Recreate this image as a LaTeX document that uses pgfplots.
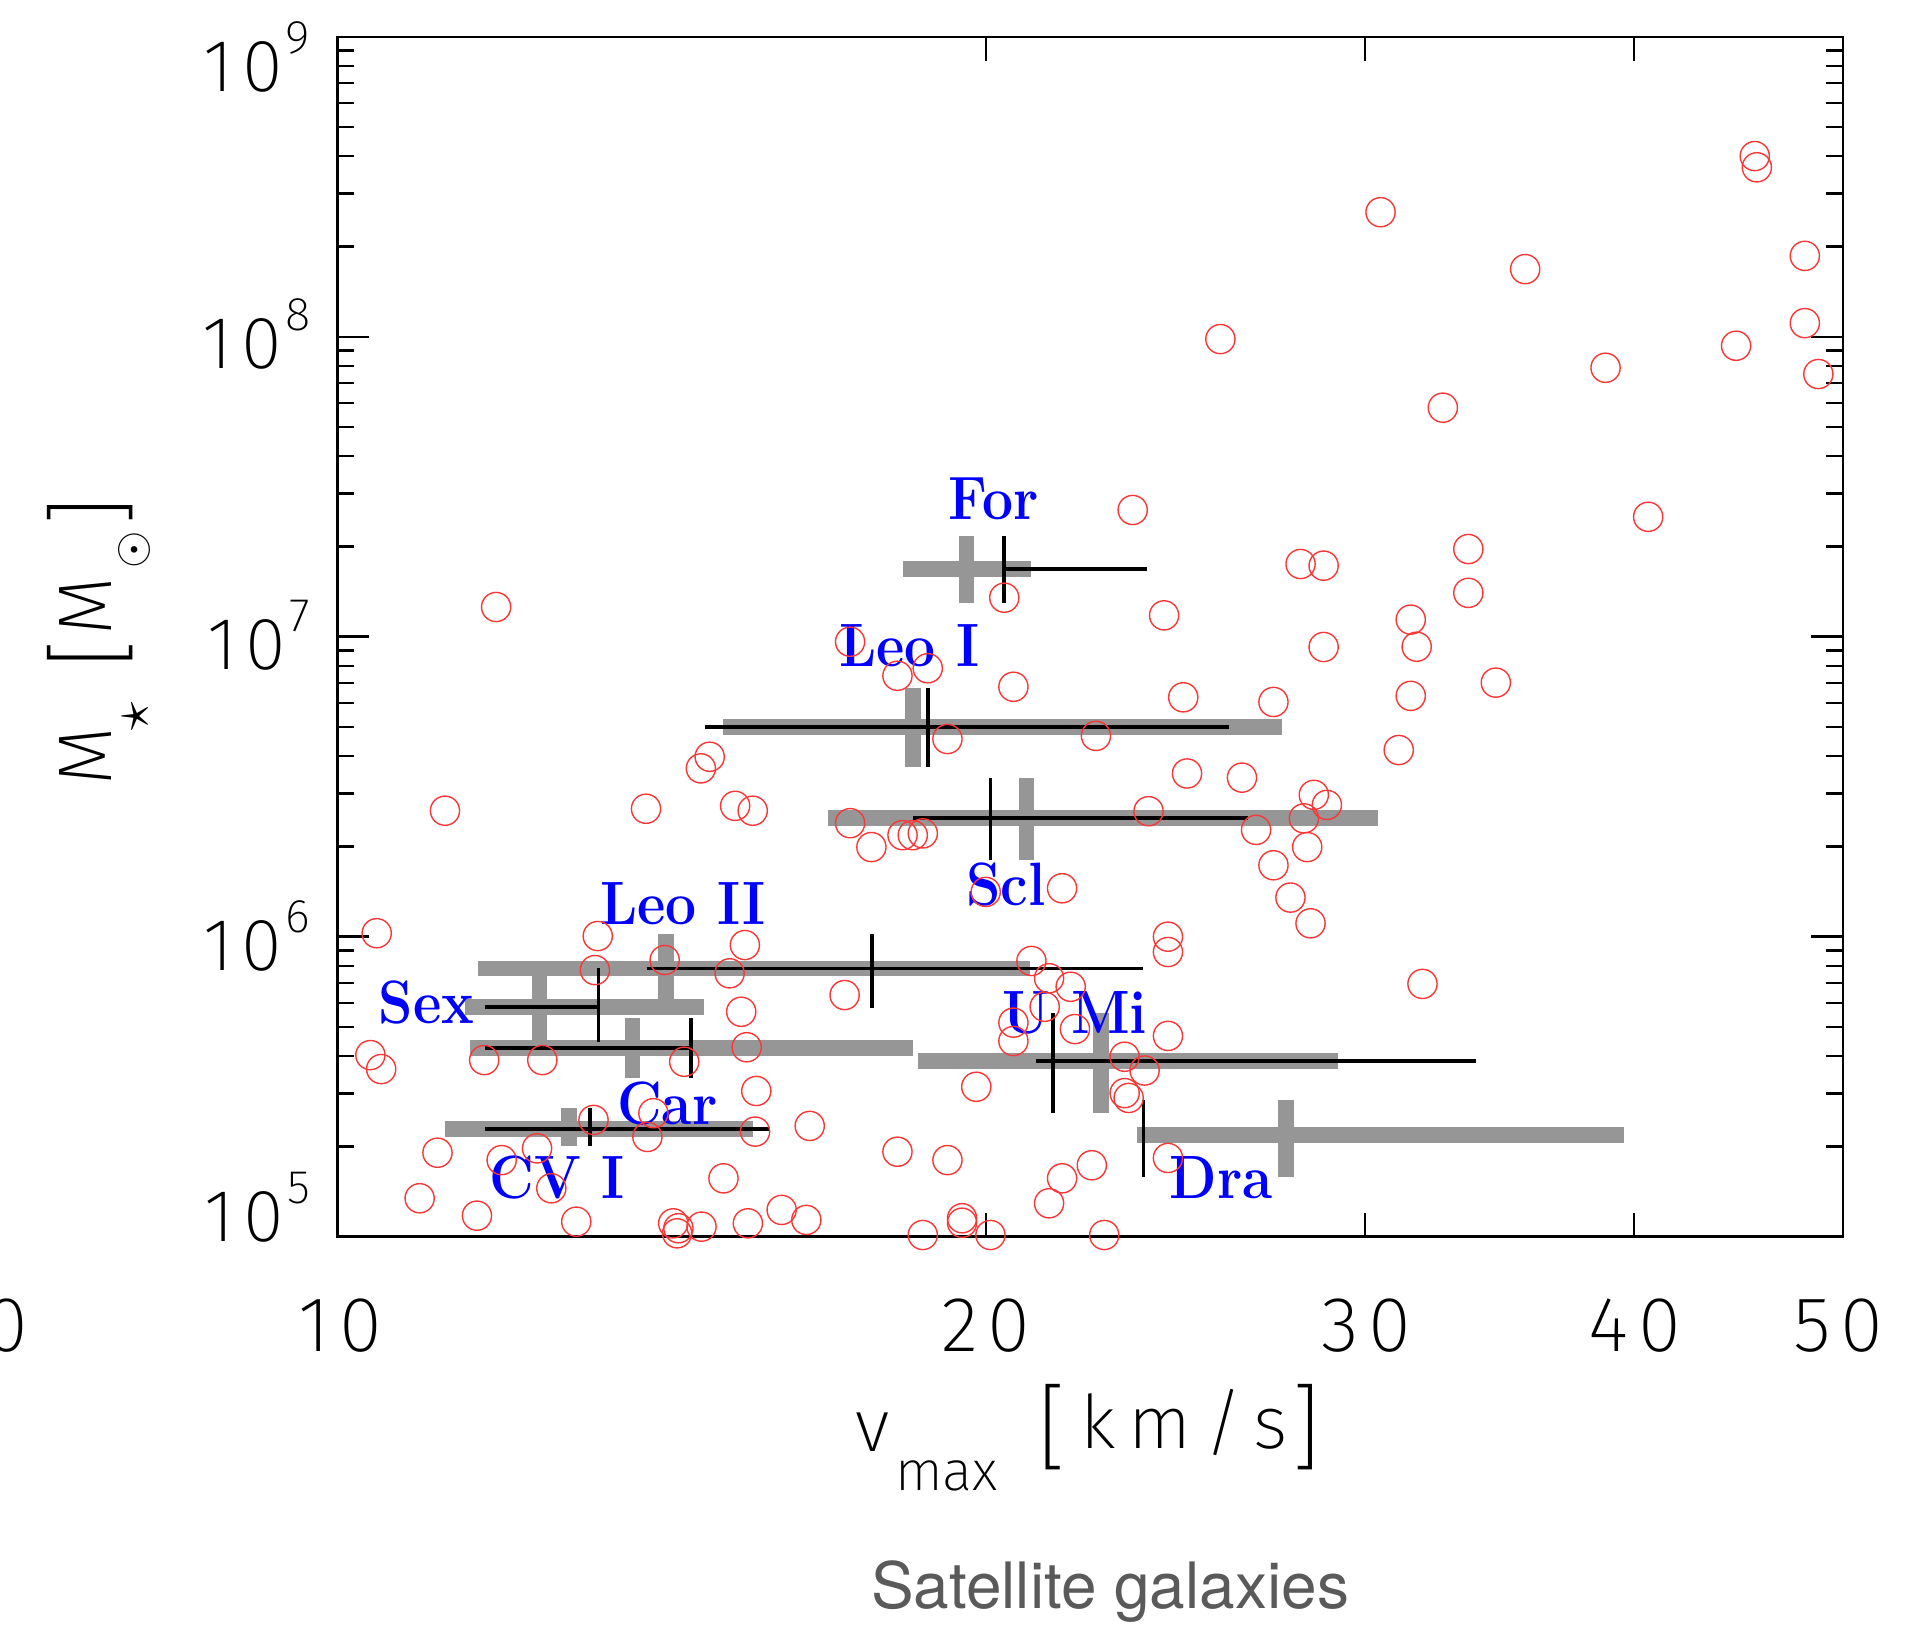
\documentclass[border=0pt]{standalone}
\usepackage{fontspec}
\usepackage{graphicx}
\usepackage{pgfplots}
\pgfplotsset{compat=1.18}
% thin sans for the axis texts, falls back to Heros
\IfFontExistsTF{Fira Sans ExtraLight}{\def\thinname{Fira Sans ExtraLight}}%
  {\IfFontExistsTF{Fira Sans Light}{\def\thinname{Fira Sans Light}}{\def\thinname{TeX Gyre Heros}}}
\expandafter\newfontfamily\expandafter\hv\expandafter{\thinname}
\expandafter\newfontfamily\expandafter\hvt\expandafter{\thinname}[LetterSpace=12]
\expandafter\newfontfamily\expandafter\hvsp\expandafter{\thinname}[LetterSpace=17]
\newfontfamily\heros{TeX Gyre Heros}
\definecolor{circred}{RGB}{250,55,55}
\definecolor{bargray}{RGB}{150,150,150}
\definecolor{capgray}{RGB}{90,90,90}
\definecolor{galblue}{RGB}{0,0,255}
\tikzset{galaxy/.style={anchor=base, inner sep=0pt, text=galblue,
        font=\fontsize{15.3}{16}\selectfont\bfseries}}

\begin{document}
\begin{tikzpicture}
\begin{axis}[
    name=ax, at={(0,0)}, anchor=south west,
    scale only axis, width=376.425pt, height=300pt,
    xmode=log, ymode=log,
    xmin=10, xmax=50, ymin=1e5, ymax=1e9,
    xtick=\empty, minor xtick={},
    extra x ticks={20,30,40}, extra x tick labels={},
    extra x tick style={major tick length=6pt},
    ytick={1e5,1e6,1e7,1e8,1e9}, yticklabels={},
    minor ytick={2e5,3e5,4e5,5e5,6e5,7e5,8e5,9e5,
                 2e6,3e6,4e6,5e6,6e6,7e6,8e6,9e6,
                 2e7,3e7,4e7,5e7,6e7,7e7,8e7,9e7,
                 2e8,3e8,4e8,5e8,6e8,7e8,8e8,9e8},
    major tick length=8pt, minor tick length=4.25pt,
    tick style={black, line width=0.6pt},
    axis line style={black, line width=0.6pt},
    axis on top,
    unbounded coords=jump,
]

% simulated satellites
\addplot[only marks, mark=o, mark size=3.65pt, color=circred,
         mark options={line width=0.35pt}] coordinates {
 (25.7,9.82e7) (30.5,2.60e8) (35.6,1.68e8) (45.5,4.00e8) (45.6,3.67e8)
 (48.0,1.86e8) (48.0,1.11e8) (44.6,9.33e7) (48.7,7.51e7) (38.8,7.88e7)
 (32.6,5.80e7)
 (40.6,2.51e7) (33.5,1.96e7) (33.5,1.40e7) (31.5,1.14e7) (31.7,9.26e6)
 (34.5,7.03e6) (31.5,6.35e6) (31.1,4.19e6)
 (23.4,2.645e7) (20.4,1.349e7) (24.2,1.178e7) (28.0,1.747e7) (28.7,1.725e7)
 (28.7,9.24e6) (17.3,9.62e6) (18.2,7.41e6) (18.8,7.85e6) (20.6,6.81e6)
 (24.7,6.28e6) (27.2,6.06e6) (19.2,4.56e6) (22.5,4.67e6) (24.8,3.50e6)
 (26.3,3.39e6) (28.4,2.97e6) (28.8,2.75e6) (28.1,2.48e6) (23.8,2.62e6)
 (26.7,2.27e6) (17.3,2.39e6) (17.7,1.99e6) (18.3,2.18e6) (18.5,2.18e6)
 (18.7,2.21e6) (28.2,1.99e6)
 (27.2,1.73e6) (27.7,1.35e6) (28.3,1.108e6) (21.7,1.45e6) (20.0,1.41e6)
 (24.3,1.0e6) (24.3,8.89e5) (21.0,8.30e5) (21.4,7.27e5) (21.9,6.81e5)
 (17.2,6.39e5) (21.3,5.84e5) (20.6,5.17e5) (20.6,4.49e5) (22.0,4.92e5)
 (24.3,4.67e5) (23.2,3.98e5) (23.7,3.58e5) (23.2,3.01e5) (23.3,2.90e5)
 (19.8,3.16e5) (18.2,1.92e5) (19.2,1.80e5) (24.3,1.83e5) (22.4,1.73e5)
 (21.7,1.565e5) (21.4,1.292e5) (19.5,1.152e5) (19.5,1.113e5) (18.7,1.013e5)
 (20.1,1.013e5) (21.3,9.90e4) (22.7,1.013e5)
 (31.9,6.96e5)
 (11.85,1.256e7) (14.89,3.98e6) (14.75,3.64e6) (11.22,2.63e6) (13.91,2.67e6)
 (15.30,2.73e6) (15.59,2.63e6)
 (10.43,1.027e6) (13.21,1.005e6) (13.17,7.74e5) (14.19,8.36e5) (15.46,9.38e5)
 (15.21,7.55e5) (15.40,5.62e5) (10.36,4.03e5) (10.48,3.62e5) (11.70,3.88e5)
 (12.45,3.88e5) (14.49,3.83e5) (15.49,4.28e5) (15.65,3.06e5) (16.57,2.34e5)
 (15.63,2.24e5) (13.93,2.15e5) (14.02,2.58e5) (13.15,2.45e5) (11.13,1.905e5)
 (11.92,1.80e5) (12.38,1.97e5) (12.57,1.45e5) (10.92,1.343e5) (11.61,1.175e5)
 (12.91,1.122e5) (15.11,1.565e5) (16.08,1.228e5) (16.51,1.137e5) (15.51,1.108e5)
 (14.32,1.108e5) (14.40,1.067e5) (14.38,1.026e5) (14.76,1.080e5) (13.46,9.75e4)
 (16.81,9.88e4)
 (9.86,3.62e5) (9.86,2.20e5)
};

% gray crosses
\addplot[no markers, draw=bargray, line width=3.9pt] coordinates {
 (18.30,1.68e7) (20.99,1.68e7) (nan,nan) (19.59,2.17e7) (19.59,1.30e7) (nan,nan)
 (15.11,4.99e6) (27.46,4.99e6) (nan,nan) (18.50,6.73e6) (18.50,3.69e6) (nan,nan)
 (16.90,2.49e6) (30.42,2.49e6) (nan,nan) (20.89,3.37e6) (20.89,1.80e6) (nan,nan)
 (11.62,7.83e5) (20.97,7.83e5) (nan,nan) (14.21,1.02e6) (14.21,5.9e5) (nan,nan)
 (11.46,5.83e5) (14.80,5.83e5) (nan,nan) (12.41,7.6e5) (12.41,4.47e5) (nan,nan)
 (11.52,4.25e5) (18.50,4.25e5) (nan,nan) (13.71,5.35e5) (13.71,3.38e5) (nan,nan)
 (11.22,2.28e5) (15.60,2.28e5) (nan,nan) (12.81,2.68e5) (12.81,2.00e5) (nan,nan)
 (18.61,3.86e5) (29.15,3.86e5) (nan,nan) (22.62,5.56e5) (22.62,2.59e5) (nan,nan)
 (23.50,2.18e5) (39.55,2.18e5) (nan,nan) (27.57,2.86e5) (27.57,1.585e5)
};

% black crosses
\addplot[no markers, draw=black, line width=0.95pt] coordinates {
 (20.38,1.68e7) (23.75,1.68e7) (nan,nan) (20.40,2.17e7) (20.40,1.30e7) (nan,nan)
 (14.81,4.99e6) (25.95,4.99e6) (nan,nan) (18.80,6.73e6) (18.80,3.69e6) (nan,nan)
 (18.51,2.49e6) (26.46,2.49e6) (nan,nan) (20.10,3.37e6) (20.10,1.80e6) (nan,nan)
 (13.92,7.83e5) (23.67,7.83e5) (nan,nan) (17.71,1.02e6) (17.71,5.8e5) (nan,nan)
 (11.71,5.83e5) (13.20,5.83e5) (nan,nan) (13.22,7.85e5) (13.22,4.47e5) (nan,nan)
 (11.71,4.25e5) (14.60,4.25e5) (nan,nan) (14.60,5.35e5) (14.60,3.38e5) (nan,nan)
 (11.71,2.28e5) (15.89,2.28e5) (nan,nan) (13.10,2.68e5) (13.10,2.00e5) (nan,nan)
 (21.10,3.86e5) (33.76,3.86e5) (nan,nan) (21.49,5.56e5) (21.49,2.59e5) (nan,nan)
 (23.67,2.86e5) (23.67,1.585e5)
};

\node[galaxy] at (axis cs:20.16,2.46e7) {\scalebox{0.9}[1]{For}};
\node[galaxy] at (axis cs:18.43,7.94e6) {\scalebox{0.9}[1]{Leo I}};
\node[galaxy] at (axis cs:20.44,1.27e6) {\scalebox{0.9}[1]{Scl}};
\node[galaxy] at (axis cs:14.47,1.10e6) {\scalebox{0.9}[1]{Leo II}};
\node[galaxy] at (axis cs:11.00,5.12e5) {\scalebox{0.9}[1]{Sex}};
\node[galaxy] at (axis cs:14.23,2.36e5) {\scalebox{0.9}[1]{Car}};
\node[galaxy] at (axis cs:12.65,1.34e5) {\scalebox{0.9}[1]{CV I}};
\node[galaxy] at (axis cs:22.00,4.76e5) {\scalebox{0.9}[1]{U Mi}};
\node[galaxy] at (axis cs:25.72,1.34e5) {\scalebox{0.9}[1]{Dra}};
\end{axis}

% text around the axis, in pixels of the reference (origin top left)
\begin{scope}[shift={(-84.325pt,309.175pt)}, x=0.25pt, y=-0.25pt,
              every node/.style={inner sep=0pt}]
  % y tick labels
  \foreach \e/\yb in {9/92,8/369,7/670,6/971,5/1242}
    \node[anchor=base east] at (311,\yb)
      {\fontsize{18.5}{18.5}\hvt 1\kern2.2pt 0\kern0.8pt\raisebox{9.5pt}{\fontsize{11.8}{11.8}\selectfont\e}};
  % x tick labels
  \foreach \t/\xc in {0/7,10/340,20/986,30/1366,40/1635,50/1838}
    \node[anchor=base] at (\xc,1352) {\fontsize{19.5}{19.5}\hvt \t};
  % x label
  \node[anchor=base] at (873,1452) {\fontsize{18.5}{18.5}\hv v};
  \node[anchor=base] at (946.5,1491) {\fontsize{14}{14}\hv max};
  \node at (1052,1427) {\fontsize{23.4}{23.4}\hv [};
  \node at (1306,1427) {\fontsize{23.4}{23.4}\hv ]};
  \node[anchor=base] at (1184,1449) {\fontsize{18.5}{18.5}\hvsp km/s};
  % y label
  \node[rotate=90] at (85.5,756) {\fontsize{19}{19}\hv M};
  \node[rotate=90] at (136,716.5) {\fontsize{14}{14}\selectfont$\star$};
  \node[rotate=90] at (90.5,654) {\fontsize{23.4}{23.4}\hv [};
  \node[rotate=90] at (85.5,606) {\fontsize{19}{19}\hv M};
  \node[rotate=90] at (134.5,550) {\fontsize{11.5}{11.5}\selectfont$\odot$};
  \node[rotate=90] at (90.5,511.5) {\fontsize{23.4}{23.4}\hv ]};
  % caption
  \node[anchor=base, text=capgray] at (1110,1609) {\fontsize{16}{16}\heros Satellite galaxies};
\end{scope}

\pgfresetboundingbox
\path[use as bounding box] (-84.325pt,309.175pt) rectangle ++(480.25pt,-407pt);
\end{tikzpicture}
\end{document}
